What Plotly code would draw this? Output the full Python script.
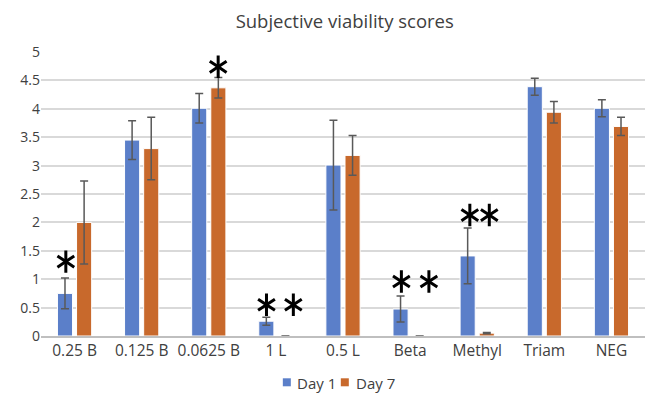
import plotly.graph_objects as go

categories = ["0.25 B", "0.125 B", "0.0625 B", "1 L", "0.5 L", "Beta", "Methyl", "Triam", "NEG"]
day1 = [0.75, 3.45, 4.01, 0.26, 3.01, 0.475, 1.41, 4.39, 4.01]
day1_err = [0.27, 0.34, 0.26, 0.07, 0.79, 0.23, 0.49, 0.15, 0.15]
day7 = [2.0, 3.30, 4.37, 0.0, 3.18, 0.0, 0.05, 3.94, 3.69]
day7_err = [0.73, 0.55, 0.18, None, 0.35, None, 0.01, 0.19, 0.16]
y_ticks = [0, 0.5, 1, 1.5, 2, 2.5, 3, 3.5, 4, 4.5, 5]
y_tick_labels = ["0", "0.5", "1", "1.5", "2", "2.5", "3", "3.5", "4", "4.5", "5"]
series_names = ["Day 1", "Day 7"]

# significance asterisks: position along the category axis (index units) and height
star_x = [-0.13, 2.14, 2.86, 3.26, 4.87, 5.28, 5.89, 6.18]
star_y = [1.31, 4.74, 0.55, 0.55, 0.96, 0.96, 2.13, 2.13]

BLUE = "#5B7FC9"
ORANGE = "#C8692C"
ERR = "#595959"
colors = [BLUE, ORANGE]

fig = go.Figure()
fig.add_trace(go.Bar(
    name=series_names[0], x=categories, y=day1,
    marker=dict(color=BLUE, line=dict(color="white", width=1)),
    error_y=dict(type="data", array=day1_err, color=ERR, thickness=1.5, width=4),
))
fig.add_trace(go.Bar(
    name=series_names[1], x=categories, y=day7,
    marker=dict(color=ORANGE, line=dict(color="white", width=1)),
    error_y=dict(type="data", array=day7_err, color=ERR, thickness=1.5, width=4),
))
for sym in ["y-up-open", "y-down-open"]:
    fig.add_trace(go.Scatter(
        x=star_x, y=star_y, xaxis="x2", mode="markers", showlegend=False,
        hoverinfo="skip",
        marker=dict(symbol=sym, size=14, color="black",
                    line=dict(color="black", width=3)),
    ))

# custom legend (Excel style: small square + label)
legend_sq_x = [0.407, 0.503]
legend_txt_x = [0.421, 0.518]
for name, col, sx, tx in zip(series_names, colors, legend_sq_x, legend_txt_x):
    fig.add_shape(type="rect", xref="paper", yref="paper",
                  xsizemode="pixel", ysizemode="pixel",
                  xanchor=sx, yanchor=-0.163, x0=-4, x1=4, y0=-4, y1=4,
                  fillcolor=col, line=dict(width=0))
    fig.add_annotation(text=name, xref="paper", yref="paper", x=tx, y=-0.165,
                       xanchor="left", yanchor="middle", showarrow=False,
                       font=dict(family="Open Sans", size=15, color="#404040"))

fig.update_layout(
    width=648, height=397,
    margin=dict(l=41, r=3, t=52, b=61, autoexpand=False),
    paper_bgcolor="white", plot_bgcolor="white",
    barmode="group", bargap=0.43, bargroupgap=0.21,
    font=dict(family="Open Sans", color="#595959", size=13),
    title=dict(text="Subjective viability scores", x=0.532, xanchor="center",
               yref="container", y=0.945, yanchor="middle",
               font=dict(family="Open Sans", size=18.5, color="#404040")),
    showlegend=False,
    xaxis=dict(showline=True, linecolor="#bfbfbf", linewidth=1.5, ticks="",
               automargin=False,
               tickfont=dict(size=15.5, color="#404040")),
    xaxis2=dict(overlaying="x", range=[-0.5, 8.5], visible=False, automargin=False),
    yaxis=dict(range=[0, 5.001], tickvals=y_ticks, ticktext=y_tick_labels,
               showgrid=True, gridcolor="#d9d9d9", gridwidth=1.5,
               zeroline=False, showline=False, ticks="", automargin=False,
               tickfont=dict(size=14, color="#404040")),
)

fig.write_html("out.html", config={"displayModeBar": False},
               post_script="document.body.style.margin='0';")
